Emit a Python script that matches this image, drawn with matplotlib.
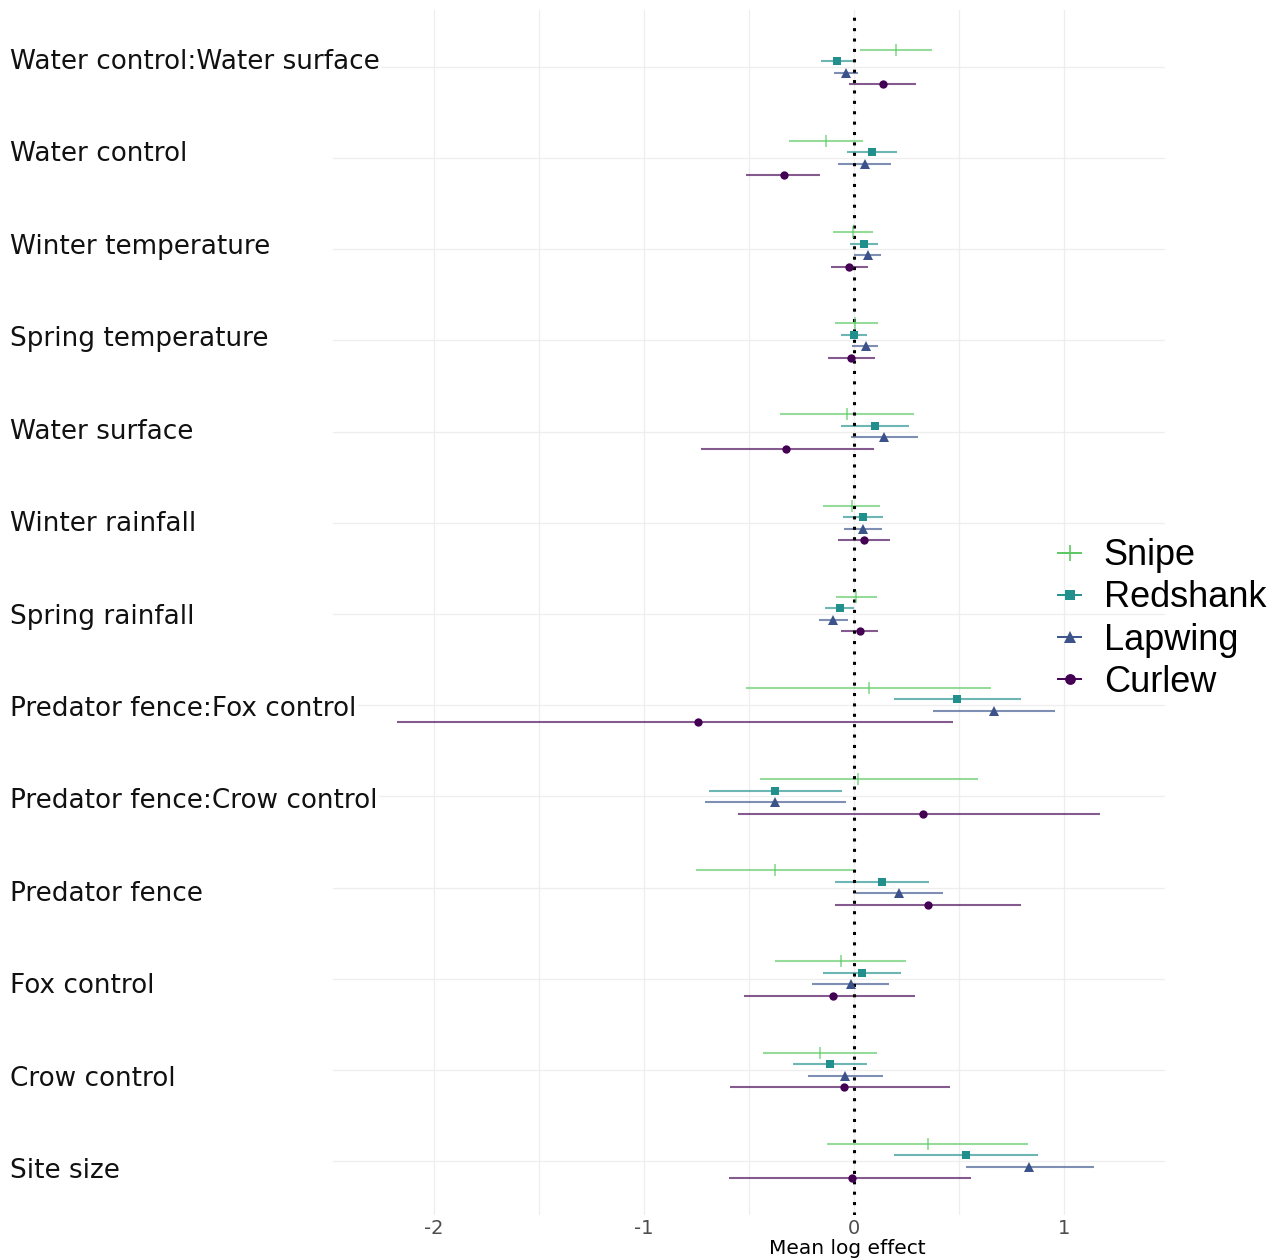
import numpy as np
import matplotlib
matplotlib.use("Agg")
import matplotlib.pyplot as plt
from matplotlib.lines import Line2D

# categories, top to bottom
categories = ["Water control:Water surface", "Water control", "Winter temperature",
              "Spring temperature", "Water surface", "Winter rainfall", "Spring rainfall",
              "Predator fence:Fox control", "Predator fence:Crow control", "Predator fence",
              "Fox control", "Crow control", "Site size"]

species = ["Snipe", "Redshank", "Lapwing", "Curlew"]

snipe_est = [0.20, -0.135, -0.005, 0.005, -0.032, -0.011, 0.01, 0.073, 0.02, -0.376, -0.062, -0.162, 0.352]
snipe_lo = [0.029, -0.308, -0.101, -0.09, -0.352, -0.149, -0.084, -0.512, -0.45, -0.754, -0.376, -0.432, -0.13]
snipe_hi = [0.371, 0.041, 0.089, 0.113, 0.284, 0.125, 0.108, 0.653, 0.591, -0.004, 0.248, 0.108, 0.83]

redshank_est = [-0.08, 0.084, 0.046, 0.0, 0.10, 0.044, -0.068, 0.491, -0.376, 0.132, 0.04, -0.116, 0.532]
redshank_lo = [-0.157, -0.033, -0.019, -0.06, -0.06, -0.051, -0.14, 0.192, -0.69, -0.089, -0.146, -0.289, 0.189]
redshank_hi = [0.0, 0.203, 0.114, 0.063, 0.26, 0.138, 0.0, 0.793, -0.055, 0.358, 0.224, 0.06, 0.875]

lapwing_est = [-0.04, 0.052, 0.065, 0.056, 0.143, 0.041, -0.098, 0.666, -0.376, 0.215, -0.016, -0.041, 0.833]
lapwing_lo = [-0.095, -0.075, 0.0, -0.008, -0.016, -0.046, -0.168, 0.375, -0.71, 0.009, -0.198, -0.22, 0.532]
lapwing_hi = [0.02, 0.176, 0.13, 0.116, 0.302, 0.132, -0.027, 0.957, -0.04, 0.421, 0.167, 0.14, 1.14]

curlew_est = [0.137, -0.335, -0.024, -0.013, -0.322, 0.049, 0.027, -0.741, 0.328, 0.353, -0.098, -0.049, -0.011]
curlew_lo = [-0.022, -0.513, -0.11, -0.122, -0.73, -0.075, -0.06, -2.176, -0.552, -0.093, -0.522, -0.59, -0.594]
curlew_hi = [0.297, -0.162, 0.065, 0.098, 0.094, 0.173, 0.114, 0.472, 1.171, 0.793, 0.29, 0.457, 0.557]

x_ticks = [-2, -1, 0, 1]
x_tick_labels = ["-2", "-1", "0", "1"]

# styling
colors = ["#5DC863", "#21908C", "#3B528B", "#440154"]
markers = ["+", "s", "^", "o"]
msizes = [9, 5.5, 7, 6]
offsets = [0.19, 0.063, -0.063, -0.19]

ests = [snipe_est, redshank_est, lapwing_est, curlew_est]
los = [snipe_lo, redshank_lo, lapwing_lo, curlew_lo]
his = [snipe_hi, redshank_hi, lapwing_hi, curlew_hi]

W, H = 1277, 1259
fig = plt.figure(figsize=(W / 100, H / 100), dpi=100)
ax = fig.add_axes([333 / W, (H - 1215) / H, 832 / W, 1205 / H])

n = len(categories)
ypos = np.arange(n, 0, -1)  # top category at n

# grid
for gx in [-2, -1.5, -1, -0.5, 0, 0.5, 1, 1.5]:
    ax.axvline(gx, color="#eeeeee", lw=0.9, zorder=0)
for gy in ypos:
    ax.axhline(gy, color="#eeeeee", lw=0.9, zorder=0)

ax.axvline(0, color="black", lw=2.2, linestyle=(0, (1, 2.4)), zorder=3)

for i in range(4):
    y = ypos + offsets[i]
    ax.hlines(y, los[i], his[i], color=colors[i], lw=1.5, alpha=0.65, zorder=2)
    if markers[i] == "+":
        ax.plot(ests[i], y, linestyle="none", marker="|", ms=msizes[i],
                color=colors[i], mew=1.2, alpha=0.7, zorder=4)
    else:
        ax.plot(ests[i], y, linestyle="none", marker=markers[i], ms=msizes[i],
                color=colors[i], mew=0, zorder=4)

ax.set_xlim(-2.48, 1.48)
ax.set_ylim(0.408, 13.625)
for s in ax.spines.values():
    s.set_visible(False)
ax.set_yticks([])
ax.set_xticks(x_ticks)
ax.set_xticklabels(x_tick_labels, fontsize=14, color="#4d4d4d", family="DejaVu Sans")
ax.tick_params(axis="x", length=0, pad=3)
ax.set_xlabel("Mean log effect", fontsize=14.5, family="DejaVu Sans", va="top")
ax.xaxis.set_label_coords((847 - 333) / 832, -(1239 - 1215) / 1205)

# category labels on the left
label_py = np.linspace(62, 1171, n)
for name, py in zip(categories, label_py):
    fig.text(10 / W, 1 - py / H, name, ha="left", va="center", fontsize=18.9,
             family="DejaVu Sans", color="#111111",
             bbox=dict(facecolor="white", edgecolor="none", pad=1))

# legend
handles = [Line2D([0], [0], color=colors[i], marker=markers[i],
                  ms=(12 if markers[i] == "+" else msizes[i] * 1.3),
                  lw=1.4, mew=(1.2 if markers[i] == "+" else 0)) for i in range(4)]
leg = fig.legend(handles, species, loc="center left",
                 bbox_to_anchor=(1058 / W, 1 - 619 / H), frameon=False,
                 prop={"family": "Liberation Sans", "size": 26},
                 handlelength=0.65, handletextpad=0.62, labelspacing=0.2,
                 borderaxespad=0, borderpad=0)

fig.savefig("out.png", dpi=100)
